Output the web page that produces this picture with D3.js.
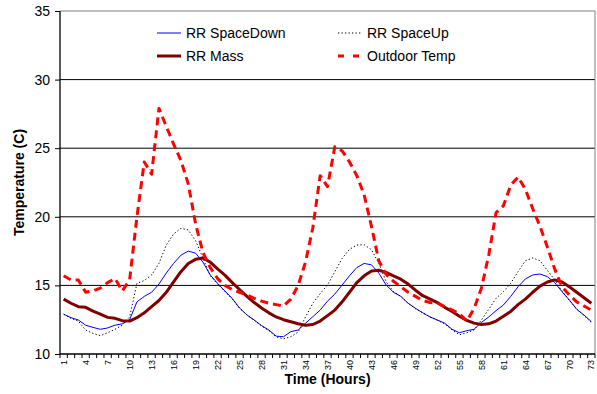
<!DOCTYPE html>
<html>
<head>
<meta charset="utf-8">
<script src="https://cdn.jsdelivr.net/npm/d3@7/dist/d3.min.js"></script>
<style>
  body { margin: 0; background: #fff; }
  text { font-family: "Liberation Sans", Arial, sans-serif; fill: #000; }
</style>
</head>
<body>
<script>
"use strict";

// hours on the category axis
const hours = d3.range(1, 74);
const hourLabels = hours.filter(h => (h - 1) % 3 === 0);
const tempTicks = [10, 15, 20, 25, 30, 35];

const spaceDown = [12.9, 12.65, 12.48, 12.1, 11.94, 11.8, 11.9, 12.1, 12.2, 12.5,
  13.8, 14.2, 14.5, 15.1, 15.9, 16.6, 17.2, 17.5, 17.35, 16.7,
  15.76, 15.15, 14.6, 14.05, 13.35, 12.85, 12.48, 12.07, 11.75, 11.3,
  11.26, 11.63, 11.75, 12.24, 12.72, 13.2, 13.85, 14.37, 15.03, 15.7,
  16.3, 16.6, 16.5, 15.9, 15.03, 14.5, 14.2, 13.7, 13.33, 13.0,
  12.7, 12.48, 12.24, 11.8, 11.55, 11.7, 11.8, 12.3, 12.7, 13.16,
  13.57, 14.2, 14.9, 15.47, 15.76, 15.83, 15.64, 15.2, 14.54, 13.94,
  13.26, 12.84, 12.36];

const spaceUp = [12.9, 12.6, 12.4, 11.75, 11.5, 11.34, 11.55, 11.8, 12.1, 12.7,
  15.15, 15.35, 15.76, 16.6, 17.94, 18.75, 19.16, 19.04, 18.26, 17.0,
  15.7, 15.1, 14.55, 14.0, 13.35, 12.85, 12.45, 12.05, 11.7, 11.25,
  11.1, 11.26, 11.6, 12.7, 13.7, 14.4, 15.03, 16.0, 16.97, 17.63,
  17.94, 17.97, 17.6, 16.6, 15.27, 14.55, 14.2, 13.7, 13.3, 13.0,
  12.7, 12.45, 12.2, 11.75, 11.4, 11.55, 11.75, 12.48, 13.26, 14.06,
  14.54, 15.15, 16.0, 16.8, 17.0, 16.8, 16.1, 15.4, 14.6, 13.9,
  13.3, 12.8, 12.3];

const rrMass = [14.0, 13.7, 13.45, 13.4, 13.13, 12.9, 12.67, 12.6, 12.43, 12.4,
  12.65, 13.0, 13.45, 13.9, 14.5, 15.25, 16.0, 16.6, 16.9, 17.0,
  16.7, 16.2, 15.75, 15.2, 14.7, 14.2, 13.75, 13.35, 13.0, 12.7,
  12.5, 12.35, 12.2, 12.1, 12.15, 12.4, 12.8, 13.2, 13.8, 14.5,
  15.2, 15.7, 16.05, 16.1, 15.95, 15.7, 15.45, 15.1, 14.65, 14.25,
  14.0, 13.75, 13.4, 13.1, 12.75, 12.45, 12.25, 12.15, 12.2, 12.4,
  12.75, 13.1, 13.6, 14.0, 14.5, 14.95, 15.25, 15.4, 15.25, 14.9,
  14.5, 14.1, 13.7];

const outdoorTemp = [15.7, 15.4, 15.4, 14.5, 14.6, 14.8, 15.2, 15.5, 14.6, 15.4,
  20.0, 24.0, 23.1, 27.9, 26.6, 25.3, 24.1, 22.4, 19.5, 17.4,
  16.3, 15.5, 15.0, 14.7, 14.5, 14.3, 14.05, 13.85, 13.7, 13.6,
  13.5, 14.0, 15.0, 16.7, 19.2, 23.0, 22.2, 25.1, 24.8, 24.0,
  23.0, 21.6, 19.3, 16.8, 15.8, 15.3, 14.9, 14.5, 14.2, 13.9,
  13.75, 13.7, 13.45, 13.2, 12.95, 12.4, 13.3, 14.8, 17.2, 20.3,
  20.8, 22.3, 22.9, 22.0, 20.6, 19.3, 17.8, 16.2, 14.9, 14.3,
  13.8, 13.5, 13.2];

const series = [
  { name: "RR SpaceDown", values: spaceDown, color: "#0000ff", width: 1, dash: null },
  { name: "RR SpaceUp", values: spaceUp, color: "#000", width: 1, dash: "1.3,2.2" },
  { name: "RR Mass", values: rrMass, color: "#800000", width: 3, dash: null },
  { name: "Outdoor Temp", values: outdoorTemp, color: "#ff0000", width: 3, dash: "8,5" }
];

const W = 597, H = 394;
const mLeft = 60, mRight = 595, mTop = 11, mBottom = 354;

const svg = d3.select("body").append("svg")
  .attr("width", W).attr("height", H);

let x = d3.scalePoint().domain(hours).range([mLeft, mRight]).padding(0.5);
let y = d3.scaleLinear().domain([10, 35]).range([mBottom, mTop]);

// gridlines
svg.append("g")
  .selectAll("line")
  .data(tempTicks.filter(t => t > 10))
  .enter()
  .append("line")
  .attr("x1", mLeft).attr("x2", mRight)
  .attr("y1", d => y(d)).attr("y2", d => y(d))
  .attr("stroke", d => d === 35 ? "#808080" : "#000")
  .attr("stroke-width", 1);

// right border of plot area
svg.append("line")
  .attr("x1", mRight).attr("x2", mRight)
  .attr("y1", mTop).attr("y2", mBottom)
  .attr("stroke", "#808080");

// series
let line = d3.line().x((d, i) => x(hours[i])).y(d => y(d));
series.forEach(s => {
  svg.append("path")
    .datum(s.values)
    .attr("d", line)
    .attr("fill", "none")
    .attr("stroke", s.color)
    .attr("stroke-width", s.width)
    .attr("stroke-dasharray", s.dash)
    .attr("stroke-linejoin", "round");
});

// y axis
let yAxis = d3.axisLeft(y).tickValues(tempTicks).tickSize(5).tickPadding(5);
let gy = svg.append("g").attr("transform", `translate(${mLeft},0)`).call(yAxis);
gy.select(".domain").attr("stroke", "#000").attr("stroke-width", 1.3).attr("d", `M0,${mTop}V${mBottom}`);
gy.selectAll(".tick line").attr("stroke", "#000");
gy.selectAll(".tick text").attr("font-size", 14).attr("font-family", "Liberation Sans, Arial");

// x axis: tick marks at category boundaries, labels every 3 hours
let step = x.step();
let gx = svg.append("g");
gx.append("line")
  .attr("x1", mLeft).attr("x2", mRight)
  .attr("y1", mBottom).attr("y2", mBottom)
  .attr("stroke", "#000").attr("stroke-width", 1.3);
gx.selectAll("line.tk")
  .data(d3.range(hours.length + 1))
  .enter()
  .append("line")
  .attr("class", "tk")
  .attr("x1", d => mLeft + d * step).attr("x2", d => mLeft + d * step)
  .attr("y1", mBottom).attr("y2", mBottom + 4)
  .attr("stroke", "#000");
gx.selectAll("text")
  .data(hourLabels)
  .enter()
  .append("text")
  .attr("transform", d => `translate(${x(d)},${mBottom + 6}) rotate(-90)`)
  .attr("text-anchor", "end")
  .attr("dy", "0.35em")
  .attr("font-size", 9)
  .text(d => d);

// axis titles
svg.append("text")
  .attr("transform", `translate(24,${(mTop + mBottom) / 2}) rotate(-90)`)
  .attr("text-anchor", "middle")
  .attr("font-size", 14).attr("font-weight", "bold")
  .text("Temperature (C)");

svg.append("text")
  .attr("x", (mLeft + mRight) / 2).attr("y", 384)
  .attr("text-anchor", "middle")
  .attr("font-size", 14).attr("font-weight", "bold")
  .text("Time (Hours)");

// legend
const legendPos = [[157, 33], [338, 33], [157, 56], [338, 56]];
series.forEach((s, i) => {
  let [lx, ly] = legendPos[i];
  let g = svg.append("g").attr("transform", `translate(${lx},${ly})`);
  g.append("line")
    .attr("x1", 0).attr("x2", 24)
    .attr("stroke", s.color)
    .attr("stroke-width", s.width)
    .attr("stroke-dasharray", s.dash === "8,5" ? "6,9" : s.dash);
  g.append("text")
    .attr("x", 29).attr("dy", "0.35em")
    .attr("font-size", 14)
    .text(s.name);
});
</script>
</body>
</html>
